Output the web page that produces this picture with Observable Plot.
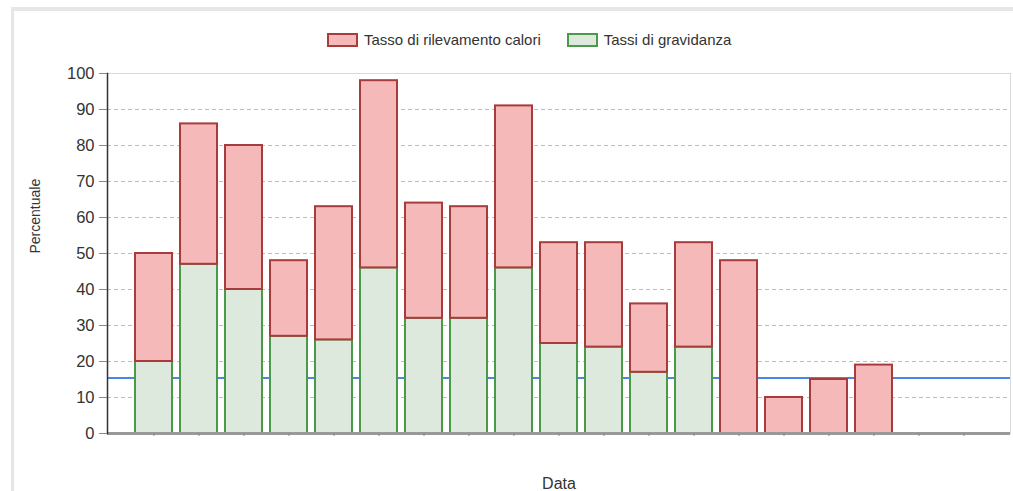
<!DOCTYPE html>
<html>
<head>
<meta charset="utf-8">
<script src="https://cdn.jsdelivr.net/npm/d3@7"></script>
<script src="https://cdn.jsdelivr.net/npm/@observablehq/plot@0.6"></script>
<style>
  html, body { margin: 0; padding: 0; background: #fff; }
  #wrap { position: relative; width: 1013px; height: 491px; overflow: hidden; font-family: "Liberation Sans", Arial, sans-serif; }
  #border { position: absolute; left: 11px; top: 7px; right: -10px; bottom: -10px; border-left: 3px solid #e6e6e6; border-top: 4px solid #e6e6e6; }
  #legend { position: absolute; left: 327px; top: 31px; display: flex; align-items: center; font-size: 15px; color: #333; white-space: nowrap; }
  .sw { width: 27px; height: 10px; border: 2px solid; margin-right: 6px; }
  .item { display: flex; align-items: center; margin-right: 26px; }
  #chart { position: absolute; left: 0; top: 0; }
</style>
</head>
<body>
<div id="wrap">
  <div id="border"></div>
  <div id="chart"></div>
  <div id="legend"></div>
</div>
<script>
// Periods on the x axis (labels not shown in the original)
const periodi = ["1","2","3","4","5","6","7","8","9","10","11","12","13","14","15","16","17","18","19"];
// Tasso di rilevamento calori (%)
const calori = [50, 86, 80, 48, 63, 98, 64, 63, 91, 53, 53, 36, 53, 48, 10, 15, 19];
// Tassi di gravidanza (%)
const gravidanza = [20, 47, 40, 27, 26, 46, 32, 32, 46, 25, 24, 17, 24, null, null, null, null];
// Reference line
const riferimento = [15.4];
const serie = ["Tasso di rilevamento calori", "Tassi di gravidanza"];
const yTicks = [0, 10, 20, 30, 40, 50, 60, 70, 80, 90, 100];

const fillC = "#f5b9b9", strokeC = "#a83b3b";
const fillG = "#dde9dc", strokeG = "#4a9a4a";

const rows = calori.map((c, i) => ({periodo: periodi[i], calori: c, gravidanza: gravidanza[i]}));
const rowsG = rows.filter(d => d.gravidanza != null);

const chart = Plot.plot({
  width: 1013,
  height: 491,
  marginLeft: 107,
  marginRight: 3,
  marginTop: 73,
  marginBottom: 58,
  style: {fontFamily: "'Liberation Sans', Arial, sans-serif", background: "transparent", color: "#333"},
  x: {type: "band", domain: periodi, paddingInner: 0.18, paddingOuter: 0.59, align: 0.5},
  y: {domain: [0, 100]},
  marks: [
    Plot.gridY(yTicks, {stroke: "#bdbdbd", strokeOpacity: 1, strokeDasharray: "4,3"}),
    Plot.frame({stroke: "#d9d9d9"}),
    Plot.ruleY(riferimento, {stroke: "#4a86e8", strokeWidth: 2}),
    Plot.barY(rowsG, {x: "periodo", y1: 0, y2: "gravidanza", fill: fillG, stroke: strokeG, strokeWidth: 2, inset: 0}),
    Plot.barY(rows, {x: "periodo", y1: d => d.gravidanza ?? 0, y2: "calori", fill: fillC, stroke: strokeC, strokeWidth: 2, inset: 0}),
    Plot.ruleY([0], {stroke: "#999", strokeWidth: 3}),
    Plot.frame({anchor: "left", stroke: "#333", strokeWidth: 1.5}),
    Plot.axisY(yTicks, {tickSize: 8, tickPadding: 5, fontSize: 16.5, stroke: "#888", fill: "#333", label: null}),
    Plot.axisX({tickSize: 3, tickFormat: () => "", stroke: "#888", label: null}),
    Plot.text(["Percentuale"], {frameAnchor: "left", dx: -72, rotate: -90, fontSize: 14, fill: "#333"}),
    Plot.text(["Data"], {frameAnchor: "bottom", dy: 55, fontSize: 16, fill: "#333"})
  ]
});
document.getElementById("chart").appendChild(chart);

const legend = document.getElementById("legend");
const cols = [[fillC, strokeC], [fillG, strokeG]];
serie.forEach((s, i) => {
  const it = document.createElement("div");
  it.className = "item";
  const sw = document.createElement("div");
  sw.className = "sw";
  sw.style.background = cols[i][0];
  sw.style.borderColor = cols[i][1];
  it.appendChild(sw);
  const t = document.createElement("span");
  t.textContent = s;
  it.appendChild(t);
  legend.appendChild(it);
});
</script>
</body>
</html>
